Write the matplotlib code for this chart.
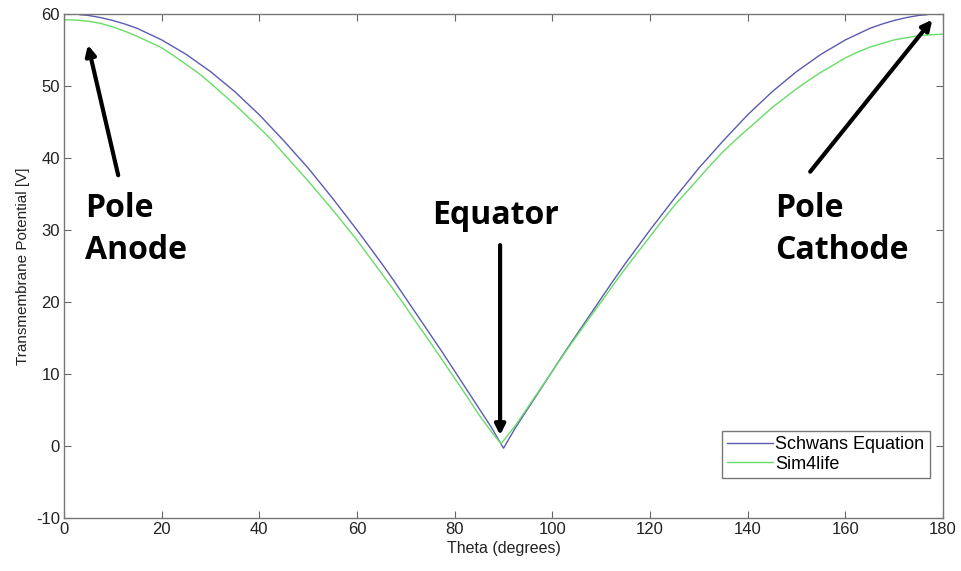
import matplotlib
matplotlib.use("Agg")
import matplotlib.pyplot as plt

# Data
theta_schwan = [3.3, 5, 7.5, 10, 12.5, 15, 17.5, 20, 22.5, 25, 27.5, 30, 32.5, 35, 37.5, 40, 42.5, 45,
                47.5, 50, 52.5, 55, 57.5, 60, 62.5, 65, 67.5, 70, 72.5, 75, 77.5, 80, 82.5, 85, 87.5, 90,
                92.5, 95, 97.5, 100, 102.5, 105, 107.5, 110, 112.5, 115, 117.5, 120, 122.5, 125, 127.5,
                130, 132.5, 135, 137.5, 140, 142.5, 145, 147.5, 150, 152.5, 155, 157.5, 160, 162.5, 165,
                167.5, 170, 172.5, 175, 176.7]
v_schwan = [59.9, 59.8, 59.5, 59.1, 58.6, 58.0, 57.2, 56.4, 55.4, 54.4, 53.2, 52.0, 50.6, 49.2, 47.6, 46.0, 44.2, 42.4,
            40.5, 38.6, 36.5, 34.4, 32.2, 30.0, 27.7, 25.4, 23.0, 20.5, 18.0, 15.5, 13.0, 10.4, 7.8, 5.2, 2.6, -0.3,
            2.6, 5.2, 7.8, 10.4, 13.0, 15.5, 18.0, 20.5, 23.0, 25.4, 27.7, 30.0, 32.2, 34.4, 36.5,
            38.6, 40.5, 42.4, 44.2, 46.0, 47.6, 49.2, 50.6, 52.0, 53.2, 54.4, 55.4, 56.4, 57.2, 58.0,
            58.6, 59.1, 59.5, 59.8, 59.9]

theta_sim = [0, 2.5, 5, 7.5, 10, 12.5, 15, 17.5, 20, 22.5, 25, 27.5, 30, 32.5, 35, 37.5, 40, 42.5, 45,
             47.5, 50, 52.5, 55, 57.5, 60, 62.5, 65, 67.5, 70, 72.5, 75, 77.5, 80, 82.5, 85, 87.5, 89.5,
             92.5, 95, 97.5, 100, 102.5, 105, 107.5, 110, 112.5, 115, 117.5, 120, 122.5, 125, 127.5,
             130, 132.5, 135, 137.5, 140, 142.5, 145, 147.5, 150, 152.5, 155, 157.5, 160, 162.5, 165,
             167.5, 170, 172.5, 175, 177.5, 180]
v_sim = [59.2, 59.15, 59.0, 58.7, 58.2, 57.6, 56.9, 56.1, 55.3, 54.2, 53.0, 51.8, 50.4, 48.9, 47.4, 45.8, 44.2, 42.5, 40.6,
         38.7, 36.8, 34.8, 32.8, 30.7, 28.6, 26.3, 24.0, 21.7, 19.3, 16.8, 14.4, 11.9, 9.4, 6.9, 4.3, 2.0, 0.3,
         2.9, 5.4, 7.9, 10.4, 12.9, 15.3, 17.7, 20.0, 22.4, 24.7, 26.9, 29.1, 31.3, 33.4, 35.3,
         37.2, 39.1, 40.9, 42.5, 44.0, 45.5, 47.0, 48.3, 49.6, 50.8, 51.9, 52.9, 53.9, 54.7, 55.4,
         55.9, 56.4, 56.7, 57.0, 57.1, 57.2]

x_ticks = [0, 20, 40, 60, 80, 100, 120, 140, 160, 180]
y_ticks = [-10, 0, 10, 20, 30, 40, 50, 60]

plt.rcParams['font.family'] = ['Liberation Sans', 'DejaVu Sans']
plt.rcParams['axes.unicode_minus'] = False

fig = plt.figure(figsize=(9.61, 5.71), dpi=100)
ax = fig.add_axes([0.0666, 0.0928, 0.9147, 0.8827])

ax.plot(theta_schwan, v_schwan, color='#5b5bb0', lw=1.0, label='Schwans Equation')
ax.plot(theta_sim, v_sim, color='#66dd66', lw=1.0, label='Sim4life')

ax.set_xlim(0, 180)
ax.set_ylim(-10, 60)
ax.set_xticks(x_ticks)
ax.set_yticks(y_ticks)
ax.tick_params(direction='in', top=True, right=True, length=5, color='#666666',
               labelsize=12, labelcolor='#222222', pad=3)
for s in ax.spines.values():
    s.set_color('#777777')
    s.set_linewidth(1.0)

ax.set_xlabel('Theta (degrees)', fontsize=11.5, color='#222222', labelpad=3)
ax.set_ylabel('Transmembrane Potential [V]', fontsize=11, color='#222222', labelpad=4)

leg = ax.legend(loc='lower right', bbox_to_anchor=(0.985, 0.079), fontsize=13,
                frameon=True, fancybox=False, borderpad=0.3, handlelength=2.5,
                handletextpad=0.15, labelspacing=0.15, borderaxespad=0)
leg.get_frame().set_edgecolor('#555555')
leg.get_frame().set_linewidth(1.0)

tkw = dict(fontsize=23, fontweight='bold', family=['Open Sans', 'DejaVu Sans'],
           color='black', linespacing=1.35)
ax.text(4.3, 35.3, 'Pole\nAnode', ha='left', va='top', **tkw)
ax.text(88.3, 32.0, 'Equator', ha='center', va='center', **tkw)
ax.text(145.6, 35.3, 'Pole\nCathode', ha='left', va='top', **tkw)

akw = dict(arrowstyle='-|>,head_length=0.6,head_width=0.3', color='black', lw=3, shrinkA=0, shrinkB=0)
ax.annotate('', xy=(4.9, 55.7), xytext=(11.1, 37.6), arrowprops=akw)
ax.annotate('', xy=(89.3, 1.5), xytext=(89.3, 27.9), arrowprops=akw)
ax.annotate('', xy=(177.8, 59.2), xytext=(152.8, 38.1), arrowprops=akw)

fig.savefig('out.png', dpi=100)
